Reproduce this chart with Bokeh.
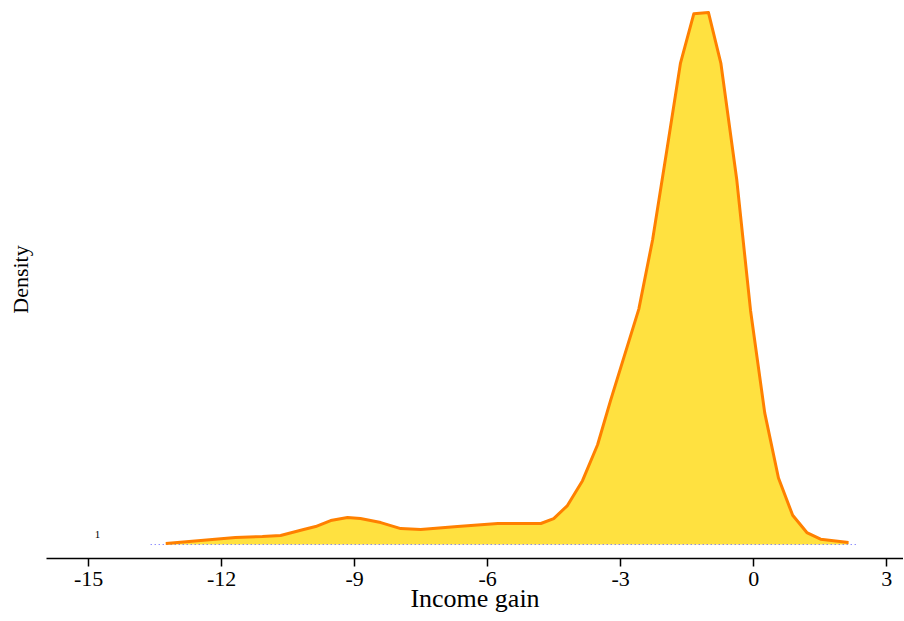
from bokeh.plotting import figure
from bokeh.models import Range1d, FixedTicker, Label, PrintfTickFormatter
from bokeh.embed import file_html
from bokeh.resources import INLINE

income_gain = [-13.26, -12.47, -11.69, -11.08, -10.67, -10.15, -9.88, -9.54, -9.16, -8.87,
               -8.41, -7.96, -7.51, -6.68, -5.77, -4.80, -4.51, -4.20, -3.86, -3.52,
               -3.23, -2.59, -2.28, -1.96, -1.65, -1.35, -1.02, -0.74, -0.38, -0.07,
               0.25, 0.56, 0.88, 1.20, 1.51, 2.14]
density = [0.0008, 0.0030, 0.0053, 0.0060, 0.0068, 0.0113, 0.0135, 0.0180, 0.0203, 0.0195,
           0.0165, 0.0120, 0.0113, 0.0135, 0.0158, 0.0158, 0.0195, 0.0293, 0.0480, 0.0750,
           0.1080, 0.1770, 0.2290, 0.2960, 0.3620, 0.3990, 0.4000, 0.3620, 0.2740, 0.1760,
           0.0990, 0.0500, 0.0220, 0.0090, 0.0040, 0.0015]
baseline_x = [-13.6, 2.32]
baseline_y = [0.0, 0.0]
x_ticks = [-15, -12, -9, -6, -3, 0, 3]
count_label = "1"
count_x = -14.8
count_y = 0.0075

p = figure(width=903, height=621, output_backend="svg", toolbar_location=None,
           x_range=Range1d(-15.95, 3.38), y_range=Range1d(-0.0105, 0.409),
           min_border_left=46, min_border_right=0, min_border_top=0, min_border_bottom=63)
p.outline_line_color = None
p.grid.grid_line_color = None
p.background_fill_color = "white"

p.varea(x=income_gain, y1=0, y2=density, fill_color="#FFE140", fill_alpha=1)
p.line(x=baseline_x, y=baseline_y, line_color="#5A5AFF", line_dash="1 3", line_width=1)
p.line(x=income_gain, y=density, line_color="#FF8000", line_width=3, line_join="round")

p.add_layout(Label(x=count_x, y=count_y, text=count_label, text_font="Liberation Serif",
                   text_font_size="11px", text_color="black", text_align="center",
                   text_baseline="middle"))

xa = p.xaxis[0]
xa.ticker = FixedTicker(ticks=x_ticks)
xa.formatter = PrintfTickFormatter(format="%d")
xa.axis_label = "Income gain"
xa.axis_label_text_font = "Liberation Serif"
xa.axis_label_text_font_style = "normal"
xa.axis_label_text_font_size = "26px"
xa.axis_label_text_color = "black"
xa.axis_label_standoff = -5
xa.major_label_text_font = "Liberation Serif"
xa.major_label_text_font_size = "22px"
xa.major_label_text_color = "black"
xa.major_label_standoff = 5
xa.major_tick_out = 8
xa.major_tick_in = 0
xa.minor_tick_line_color = None
xa.axis_line_color = "black"
xa.axis_line_width = 1.5
xa.major_tick_line_width = 1.5

ya = p.yaxis[0]
ya.axis_label = "Density"
ya.axis_label_text_font = "Liberation Serif"
ya.axis_label_text_font_style = "normal"
ya.axis_label_text_font_size = "22px"
ya.axis_label_text_color = "black"
ya.axis_label_standoff = 8
ya.axis_line_color = None
ya.major_tick_line_color = None
ya.minor_tick_line_color = None
ya.major_label_text_font_size = "0px"
ya.major_label_text_color = None

open("out.html", "w").write(file_html(p, INLINE))
